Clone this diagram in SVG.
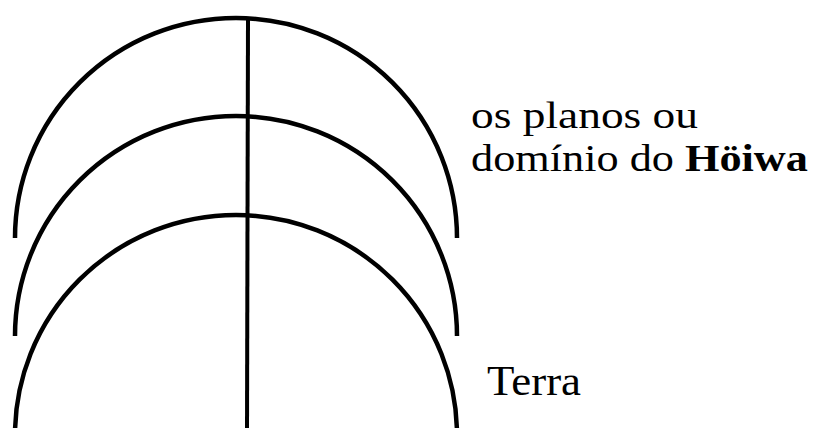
<svg xmlns="http://www.w3.org/2000/svg" width="821" height="428" viewBox="0 0 821 428">
<style>
.arc{fill:none;stroke:#000;stroke-width:4.5;stroke-linecap:butt}
.axis{fill:none;stroke:#000;stroke-width:4}
</style>
<rect width="821" height="428" fill="#fff"/>
<g id="connectors">
<line class="axis" x1="248" y1="18" x2="247" y2="428"/>
</g>
<g id="plane-top"><path class="arc" d="M15,238 A221,220 0 0 1 457,238"/></g>
<g id="plane-middle"><path class="arc" d="M15,336 A221,220 0 0 1 457,336"/></g>
<g id="plane-earth"><path class="arc" d="M15,435 A221,220 0 0 1 457,435"/></g>
<g id="label-planos" font-family="Liberation Serif, DejaVu Serif, serif" fill="#000">
<text x="471" y="128" font-size="38" textLength="227" lengthAdjust="spacingAndGlyphs">os planos ou</text>
<text x="471" y="171" font-size="38" textLength="337" lengthAdjust="spacingAndGlyphs">domínio do <tspan font-weight="bold">Höiwa</tspan></text>
</g>
<g id="label-terra" font-family="Liberation Serif, DejaVu Serif, serif" fill="#000"><text x="487" y="395" font-size="42" textLength="94" lengthAdjust="spacingAndGlyphs">Terra</text></g>
</svg>
